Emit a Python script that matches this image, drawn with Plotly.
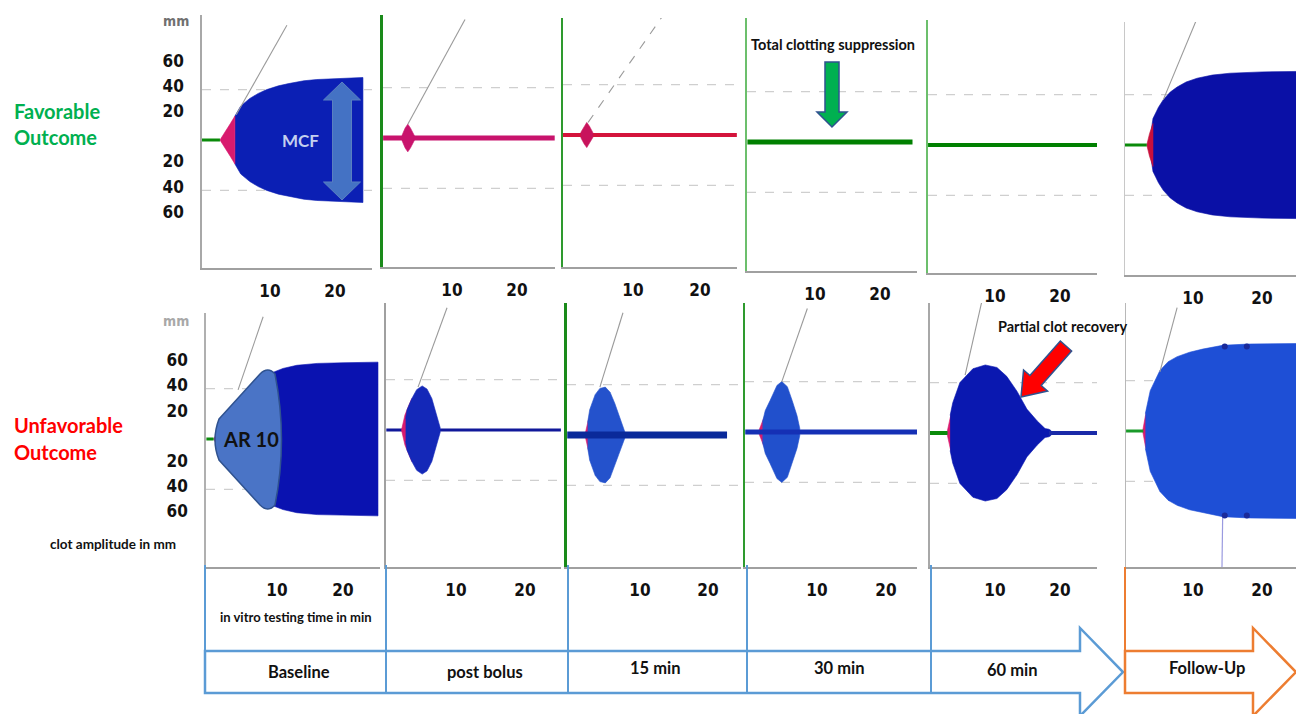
import math
import plotly.graph_objects as go

W, H = 1296, 714

# ---------------- data (time in min, half clot amplitude in mm) ----------------
amp_ticks = [60, 40, 20, -20, -40, -60]
time_ticks = [10, 20]
column_labels = ["Baseline", "post bolus", "15 min", "30 min", "60 min"]
followup_label = "Follow-Up"

# 1 favorable baseline
fb_green_t = [-0.5, 2.3]
fb_pink_t = [2.3, 3.1, 3.9, 4.6]
fb_pink_amp = [0, 6, 13, 19]
fb_blue_t = [4.6, 5.5, 6.9, 8.2, 9.5, 11.3, 13.1, 15.2, 17.2, 20.8, 24.3]
fb_blue_amp = [19, 27, 33, 37, 40, 43, 45, 47, 48, 49, 49.6]
fb_alpha_t = [4.8, 12.6]
fb_alpha_amp = [20, 91]

# 2 favorable post bolus
fp_line_t = [-0.6, 25.8]
fp_spike_t = [2.3, 2.8, 3.2, 3.6, 4.2]
fp_spike_amp = [2, 8, 11, 8, 2]
fp_alpha_t = [3.2, 12.0]
fp_alpha_amp = [11, 94]

# 3 favorable 15 min
f15_line_t = [-0.5, 25.5]
f15_spike_t = [2.2, 2.7, 3.1, 3.5, 4.0]
f15_spike_amp = [2, 7, 10, 7, 2]
f15_alpha_t = [3.3, 14.5]
f15_alpha_amp = [10, 95]

# 4 favorable 30 min
f30_line_t = [-0.4, 25.0]

# 5 favorable 60 min
f60_line_t = [-0.3, 25.7]

# 6 favorable follow-up
ffu_green_t = [0.1, 3.3]
ffu_pink_t = [3.3, 3.7, 4.2]
ffu_pink_amp = [0, 9, 17]
ffu_blue_t = [3.9, 4.2, 5.0, 5.7, 6.7, 7.7, 9.0, 10.6, 12.8, 15.4, 20.0, 25.0, 26.5]
ffu_blue_amp = [10, 21, 30, 36, 42, 46, 50, 53, 55.5, 57, 58, 58.5, 58.5]
ffu_alpha_t = [5.7, 10.4]
ffu_alpha_amp = [36, 98]

# 7 unfavorable baseline
ub_green_t = [-0.7, 0.4]
ub_pink_t = [0.4, 0.9, 1.4]
ub_pink_amp = [0, 5, 9]
ub_blue_t = [0.9, 1.5, 2.5, 4.0, 6.0, 8.0, 9.4, 10.9, 13.0, 16.1, 20.0, 25.3]
ub_blue_amp = [4, 8, 15, 27, 41, 50, 53, 56, 58.5, 60, 60.5, 61]
ub_alpha_t = [4.1, 7.9]
ub_alpha_amp = [39, 97]

# 8 unfavorable post bolus
ubo_line_t = [-0.1, 25.2]
ubo_pink_t = [2.1, 2.6, 3.2, 3.6]
ubo_pink_amp = [0, 12, 20, 25]
ubo_blue_t = [2.7, 2.9, 3.6, 4.3, 5.1, 5.8, 6.5, 7.1, 7.7]
ubo_blue_amp = [9, 16, 25, 32, 35, 32.5, 25, 13.5, 2]
ubo_alpha_t = [4.5, 8.7]
ubo_alpha_amp = [34, 97]

# 9 unfavorable 15 min
u15_bar_t = [-0.7, 22.8]
u15_pink_t = [1.9, 2.4, 3.0]
u15_pink_amp = [0, 12, 20]
u15_blue_t = [2.3, 2.6, 3.4, 4.1, 4.9, 5.6, 6.3, 7.1, 7.8]
u15_blue_amp = [10, 20, 32, 37, 38, 34, 25, 12, 2]
u15_alpha_t = [4.1, 7.5]
u15_alpha_amp = [38, 97]

# 10 unfavorable 30 min
u30_line_t = [-0.4, 24.5]
u30_pink_t = [1.5, 2.2, 3.0]
u30_pink_amp = [0, 10, 18]
u30_blue_t = [2.1, 2.5, 3.2, 4.2, 4.9, 5.7, 6.4, 7.1, 7.5]
u30_blue_amp = [8, 17, 25, 37, 40, 36, 25, 13, 3]
u30_alpha_t = [4.9, 8.6]
u30_alpha_amp = [40, 98]

# 11 unfavorable 60 min
u60_green_t = [0.0, 2.7]
u60_pink_t = [2.6, 3.1, 3.6]
u60_pink_amp = [0, 12, 20]
u60_blue_t = [3.1, 3.5, 4.6, 6.6, 8.5, 10.3, 11.8, 13.4, 14.9, 16.5, 17.7, 18.3, 18.6]
u60_blue_amp = [14, 24, 40, 51, 54, 52, 45, 33, 19, 9.5, 3.5, 3, 2]
u60_line_t = [18.3, 25.7]
u60_alpha_t = [5.4, 8.0]
u60_alpha_amp = [46, 105]

# 12 unfavorable follow-up
ufu_green_t = [0.3, 2.8]
ufu_pink_t = [2.7, 3.1, 3.5]
ufu_pink_amp = [0, 12, 20]
ufu_blue_t = [3.1, 3.8, 5.2, 6.4, 7.7, 9.5, 11.4, 14.3, 18.0, 22.0, 24.9, 26.5]
ufu_blue_amp = [14, 32, 48, 55, 59, 62.5, 65, 68, 69, 69.5, 69.5, 69.5]
ufu_dot_t = [14.6, 17.8]
ufu_dot_amp = [67, 67]
ufu_spike_t = [14.3, 14.2]
ufu_spike_amp = [-68, -108]
ufu_alpha_t = [5.2, 7.7]
ufu_alpha_amp = [47, 98]

# ---------------- styling / layout geometry ----------------
# panel: (left px, right px, top px, bottom px, px of t=0, px per min, px of zero amplitude)
geom = {
    1: (202, 372, 15, 268, 205, 6.5, 140),
    2: (383, 555, 15, 267, 387, 6.5, 138),
    3: (563, 737, 18, 267, 566, 6.7, 135),
    4: (747, 917, 18, 271, 750, 6.5, 142),
    5: (928, 1097, 20, 273, 930, 6.5, 145),
    6: (1125, 1296, 22, 275, 1124, 6.9, 145),
    7: (206, 380, 313, 567, 211, 6.6, 439),
    8: (386, 561, 303, 567, 387, 6.9, 430),
    9: (567, 741, 303, 567, 572, 6.8, 435),
    10: (745, 917, 303, 567, 748, 6.9, 432),
    11: (930, 1097, 303, 567, 930, 6.5, 433),
    12: (1126, 1296, 303, 567, 1124, 6.9, 431),
}
S = 1.26  # px per mm
left_line = {1: ("#a8a8a8", 1.5), 2: ("#1a8a1a", 3), 3: ("#2e9a2e", 1.5), 4: ("#6cbf6c", 1.5),
             5: ("#6cbf6c", 1.5), 6: ("#c8c8c8", 1), 7: ("#b0b0b0", 1.5), 8: ("#a0a0a0", 1.5),
             9: ("#1a8a1a", 2.5), 10: ("#2e9a2e", 1.5), 11: ("#a8a8a8", 1.5), 12: ("#b8b8b8", 1)}
tick_shift = {1: 3, 7: 2.5}

BLUE = "#0b1fb4"
NAVY = "#0a10a6"
PINK = "#d81a6e"
GREEN = "#0a8a0a"
GRAY = "#9a9a9a"
NUMFONT = "DejaVu Sans Condensed, Liberation Sans Narrow, Arial Narrow, sans-serif"
TXTFONT = "Lato, Open Sans, sans-serif"


def ax(i):
    return ("x" if i == 1 else f"x{i}"), ("y" if i == 1 else f"y{i}")


def band(i, t, amp, color, lower=None):
    xa, ya = ax(i)
    lo = lower if lower is not None else [-a for a in amp]
    return go.Scatter(x=list(t) + list(t)[::-1], y=list(amp) + list(lo)[::-1], mode="lines",
                      fill="toself", fillcolor=color, line=dict(width=0.6, color=color),
                      xaxis=xa, yaxis=ya, hoverinfo="skip")


def zline(i, t, color, width):
    xa, ya = ax(i)
    return go.Scatter(x=t, y=[0] * len(t), mode="lines", line=dict(color=color, width=width),
                      xaxis=xa, yaxis=ya, hoverinfo="skip")


def alpha(i, t, a, dash="solid"):
    xa, ya = ax(i)
    return go.Scatter(x=t, y=a, mode="lines", line=dict(color=GRAY, width=1.1, dash=dash),
                      xaxis=xa, yaxis=ya, hoverinfo="skip")


traces = [
    # 1
    band(1, fb_blue_t, fb_blue_amp, BLUE), band(1, fb_pink_t, fb_pink_amp, PINK),
    zline(1, fb_green_t, GREEN, 3), alpha(1, fb_alpha_t, fb_alpha_amp),
    # 2
    zline(2, fp_line_t, "#c8136c", 5), band(2, fp_spike_t, fp_spike_amp, "#c8136c"),
    alpha(2, fp_alpha_t, fp_alpha_amp),
    # 3
    zline(3, f15_line_t, "#d4143c", 4), band(3, f15_spike_t, f15_spike_amp, "#c8135c"),
    alpha(3, f15_alpha_t, f15_alpha_amp, dash="dash"),
    # 4, 5
    zline(4, f30_line_t, "#008000", 5), zline(5, f60_line_t, "#008000", 4),
    # 6
    band(6, ffu_blue_t, ffu_blue_amp, NAVY), band(6, ffu_pink_t, ffu_pink_amp, "#c8103c"),
    zline(6, ffu_green_t, GREEN, 3), alpha(6, ffu_alpha_t, ffu_alpha_amp),
    # 7
    band(7, ub_blue_t, ub_blue_amp, "#0a12b0"), band(7, ub_pink_t, ub_pink_amp, PINK),
    zline(7, ub_green_t, GREEN, 3), alpha(7, ub_alpha_t, ub_alpha_amp),
    # 8
    zline(8, ubo_line_t, "#10189a", 3), band(8, ubo_pink_t, ubo_pink_amp, PINK),
    band(8, ubo_blue_t, ubo_blue_amp, "#1428b8"), alpha(8, ubo_alpha_t, ubo_alpha_amp),
    # 9
    band(9, u15_pink_t, u15_pink_amp, PINK), band(9, u15_blue_t, u15_blue_amp, "#2452cc"),
    zline(9, u15_bar_t, "#0a2a9a", 7), alpha(9, u15_alpha_t, u15_alpha_amp),
    # 10
    band(10, u30_pink_t, u30_pink_amp, PINK), band(10, u30_blue_t, u30_blue_amp, "#2150cc"),
    zline(10, u30_line_t, "#1530b5", 5), alpha(10, u30_alpha_t, u30_alpha_amp),
    # 11
    band(11, u60_pink_t, u60_pink_amp, PINK), band(11, u60_blue_t, u60_blue_amp, "#0a18b0"),
    zline(11, u60_green_t, GREEN, 4), zline(11, u60_line_t, "#1a2aa8", 4),
    alpha(11, u60_alpha_t, u60_alpha_amp),
    # 12
    band(12, ufu_pink_t, ufu_pink_amp, PINK), band(12, ufu_blue_t, ufu_blue_amp, "#1e4fd6"),
    zline(12, ufu_green_t, "#1a9a2a", 3), alpha(12, ufu_alpha_t, ufu_alpha_amp),
    go.Scatter(x=ufu_spike_t, y=ufu_spike_amp, mode="lines", line=dict(color="#9a9ae0", width=1.2),
               xaxis="x12", yaxis="y12", hoverinfo="skip"),
    go.Scatter(x=ufu_dot_t + ufu_dot_t, y=ufu_dot_amp + [-v for v in ufu_dot_amp], mode="markers",
               marker=dict(color="#1a2a9a", size=6), xaxis="x12", yaxis="y12", hoverinfo="skip"),
]

fig = go.Figure(traces)

layout = dict(width=W, height=H, margin=dict(l=0, r=0, t=0, b=0), showlegend=False,
              paper_bgcolor="white", plot_bgcolor="white")

shapes = []
for i, (L, R, T, B, x0, ppm, yc) in geom.items():
    xk = "xaxis" if i == 1 else f"xaxis{i}"
    yk = "yaxis" if i == 1 else f"yaxis{i}"
    xa, ya = ax(i)
    layout[xk] = dict(domain=[L / W, R / W], range=[(L - x0) / ppm, (R - x0) / ppm], anchor=ya,
                      showgrid=False, zeroline=False, showline=True, linecolor="#a0a0a0", linewidth=2,
                      tickvals=time_ticks, ticks="", ticklabelstandoff=7,
                      tickfont=dict(family=NUMFONT, size=17, color="#111", weight="bold"))
    lc, lw = left_line[i]
    ycfg = dict(domain=[1 - B / H, 1 - T / H], range=[-(B - yc) / S, (yc - T) / S], anchor=xa,
                showgrid=False, zeroline=False, showline=True, linecolor=lc, linewidth=lw,
                ticks="", showticklabels=False)
    if i in tick_shift:
        ycfg.update(showticklabels=True, tickvals=[v + tick_shift[i] for v in amp_ticks],
                    ticktext=[str(abs(v)) for v in amp_ticks], ticklabelstandoff=13,
                    tickfont=dict(family=NUMFONT, size=17, color="#111", weight="bold"))
    layout[yk] = ycfg
    for g in (40, -40):
        shapes.append(dict(type="line", xref=f"{xa} domain", yref=ya, x0=0, x1=1, y0=g, y1=g,
                           line=dict(color="#cfcfcf", width=1.2, dash="dash"), layer="below"))


def P(x, y):
    return x / W, 1 - y / H


def poly_path(points):
    s = ""
    for k, (x, y) in enumerate(points):
        a, b = P(x, y)
        s += ("M" if k == 0 else "L") + f"{a:.5f},{b:.5f} "
    return s + "Z"


def block_arrow(tail, tip, sw, hw, hl):
    dx, dy = tip[0] - tail[0], tip[1] - tail[1]
    n = math.hypot(dx, dy)
    ux, uy = dx / n, dy / n
    nx, ny = -uy, ux
    bx, by = tip[0] - ux * hl, tip[1] - uy * hl
    pts = [(tail[0] + nx * sw / 2, tail[1] + ny * sw / 2), (bx + nx * sw / 2, by + ny * sw / 2),
           (bx + nx * hw / 2, by + ny * hw / 2), tip, (bx - nx * hw / 2, by - ny * hw / 2),
           (bx - nx * sw / 2, by - ny * sw / 2), (tail[0] - nx * sw / 2, tail[1] - ny * sw / 2)]
    return poly_path(pts)


def double_arrow(cx, yt, yb, sw, hw, hl):
    pts = [(cx, yt), (cx + hw / 2, yt + hl), (cx + sw / 2, yt + hl), (cx + sw / 2, yb - hl),
           (cx + hw / 2, yb - hl), (cx, yb), (cx - hw / 2, yb - hl), (cx - sw / 2, yb - hl),
           (cx - sw / 2, yt + hl), (cx - hw / 2, yt + hl)]
    return poly_path(pts)


# MCF double arrow
shapes.append(dict(type="path", xref="paper", yref="paper", path=double_arrow(342, 82, 200, 19, 37, 18),
                   fillcolor="#4472c4", line=dict(color="#5a7fc0", width=1)))
# green arrow (total suppression)
shapes.append(dict(type="path", xref="paper", yref="paper", path=block_arrow((832, 62), (832, 127), 14, 30, 15),
                   fillcolor="#00b050", line=dict(color="#2f528f", width=1.5)))
# red arrow (partial recovery)
shapes.append(dict(type="path", xref="paper", yref="paper", path=block_arrow((1066, 346), (1021, 397), 15, 32, 22),
                   fillcolor="#ff0000", line=dict(color="#2f528f", width=1.5)))
# AR 10 overlay
ar = [(219, 419), (260, 374), (268, 366), (275, 374), (288, 440), (275, 505), (268, 513), (260, 505),
      (219, 460), (211, 440), (219, 419)]
q = [P(x, y) for x, y in ar]
ar_path = (f"M{q[0][0]:.5f},{q[0][1]:.5f} L{q[1][0]:.5f},{q[1][1]:.5f} "
           f"Q{q[2][0]:.5f},{q[2][1]:.5f} {q[3][0]:.5f},{q[3][1]:.5f} "
           f"Q{q[4][0]:.5f},{q[4][1]:.5f} {q[5][0]:.5f},{q[5][1]:.5f} "
           f"Q{q[6][0]:.5f},{q[6][1]:.5f} {q[7][0]:.5f},{q[7][1]:.5f} "
           f"L{q[8][0]:.5f},{q[8][1]:.5f} Q{q[9][0]:.5f},{q[9][1]:.5f} {q[10][0]:.5f},{q[10][1]:.5f} Z")
shapes.append(dict(type="path", xref="paper", yref="paper", path=ar_path,
                   fillcolor="#4a74c6", line=dict(color="#2f528f", width=1.5)))

# timeline arrows
BL = "#5b9bd5"
OR = "#ed7d31"
shapes.append(dict(type="path", xref="paper", yref="paper",
                   path=poly_path([(205, 651), (1080, 651), (1080, 628), (1123, 672), (1080, 716),
                                   (1080, 693), (205, 693)]),
                   fillcolor="white", line=dict(color=BL, width=2.5)))
for xv in (205, 386, 568, 747, 931):
    a, b = P(xv, 565)
    a2, b2 = P(xv, 693 if xv != 205 else 651)
    shapes.append(dict(type="line", xref="paper", yref="paper", x0=a, x1=a2, y0=b, y1=b2,
                       line=dict(color=BL, width=2)))
shapes.append(dict(type="path", xref="paper", yref="paper",
                   path=poly_path([(1125, 651), (1253, 651), (1253, 628), (1296, 672), (1253, 716),
                                   (1253, 693), (1125, 693)]),
                   fillcolor="white", line=dict(color=OR, width=2.5)))
a, b = P(1125, 567)
a2, b2 = P(1125, 651)
shapes.append(dict(type="line", xref="paper", yref="paper", x0=a, x1=a2, y0=b, y1=b2,
                   line=dict(color=OR, width=2)))

layout["shapes"] = shapes

ann = []


def text(x, y, s, size, color="#111", xanchor="center", family=TXTFONT, weight="bold"):
    a, b = P(x, y)
    ann.append(dict(x=a, y=b, xref="paper", yref="paper", text=s, showarrow=False, xanchor=xanchor,
                    yanchor="middle", font=dict(family=family, size=size, color=color, weight=weight)))


text(12, 111, "Favorable", 20, "#00b050", "left")
text(12, 137, "Outcome", 20, "#00b050", "left")
text(12, 425, "Unfavorable", 20, "#ff0000", "left")
text(12, 452, "Outcome", 20, "#ff0000", "left")
text(113, 544, "clot amplitude in mm", 13.5)
text(296, 617, "in vitro testing time in min", 13)
text(176, 21, "mm", 14, "#707070", family=NUMFONT)
text(176, 321, "mm", 14, "#a8a8a8", family=NUMFONT)
text(833, 44, "Total clotting suppression", 14.5)
text(1063, 327, "Partial clot recovery", 14.5)
text(300, 141, "MCF", 17, "#c4d0ee")
text(251, 439, "AR 10", 20, "#111")
for xc, yc_, s in zip([299, 485, 655, 839, 1012], [672, 672, 668, 668, 670], column_labels):
    text(xc, yc_, s, 16.5)
text(1207, 668, followup_label, 16.5)

layout["annotations"] = ann
fig.update_layout(**layout)
fig.write_html("out.html", config={"displayModeBar": False},
               post_script="document.body.style.margin='0px';")
